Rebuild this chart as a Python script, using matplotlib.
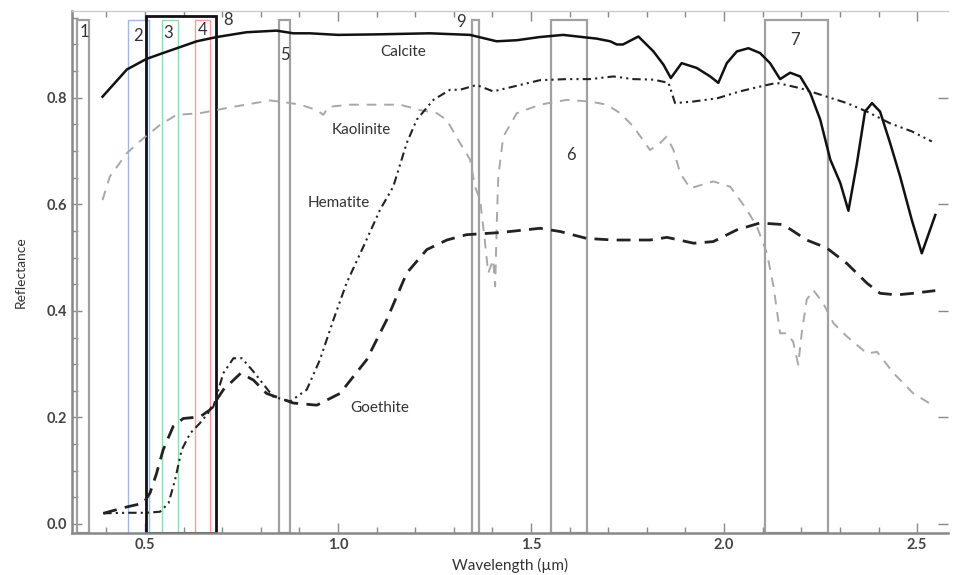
import matplotlib
matplotlib.use("Agg")
import matplotlib.pyplot as plt
from matplotlib.patches import Rectangle
from matplotlib.ticker import MultipleLocator

plt.rcParams['font.family'] = ['Lato', 'DejaVu Sans']

# ---------------- data ----------------
calcite_wl = [0.390, 0.453, 0.504, 0.547, 0.634, 0.686, 0.763, 0.841, 0.884, 0.927, 1.00, 1.10, 1.238,
              1.342, 1.411, 1.463, 1.523, 1.583, 1.670, 1.705, 1.722, 1.738, 1.778, 1.817, 1.843,
              1.862, 1.890, 1.929, 1.964, 1.985, 2.007, 2.033, 2.063, 2.093, 2.119, 2.145, 2.171,
              2.197, 2.223, 2.249, 2.275, 2.301, 2.322, 2.344, 2.365, 2.383, 2.404, 2.430, 2.456,
              2.486, 2.512, 2.547]
calcite_r = [0.802, 0.853, 0.873, 0.884, 0.906, 0.914, 0.923, 0.926, 0.921, 0.921, 0.918, 0.919, 0.921,
             0.918, 0.906, 0.908, 0.914, 0.918, 0.911, 0.906, 0.900, 0.900, 0.915, 0.887, 0.862,
             0.837, 0.865, 0.856, 0.840, 0.828, 0.865, 0.887, 0.893, 0.884, 0.865, 0.835, 0.847,
             0.840, 0.809, 0.759, 0.684, 0.640, 0.588, 0.677, 0.774, 0.790, 0.774, 0.715, 0.652,
             0.571, 0.508, 0.580]

kaolinite_wl = [0.390, 0.409, 0.453, 0.496, 0.539, 0.582, 0.642, 0.729, 0.824, 0.867, 0.902, 0.945,
                0.962, 0.975, 1.031, 1.161, 1.212, 1.256, 1.282, 1.316, 1.342, 1.355, 1.368, 1.381,
                1.389, 1.402, 1.407, 1.411, 1.415, 1.428, 1.463, 1.523, 1.592, 1.653, 1.696, 1.731,
                1.765, 1.808, 1.830, 1.851, 1.869, 1.886, 1.912, 1.972, 2.016, 2.059, 2.085, 2.111,
                2.128, 2.145, 2.162, 2.179, 2.192, 2.201, 2.214, 2.231, 2.257, 2.283, 2.318, 2.370,
                2.396, 2.439, 2.490, 2.547]
kaolinite_r = [0.608, 0.652, 0.696, 0.724, 0.749, 0.768, 0.771, 0.783, 0.795, 0.791, 0.787, 0.777,
               0.768, 0.783, 0.787, 0.787, 0.777, 0.771, 0.758, 0.715, 0.684, 0.633, 0.608, 0.527,
               0.471, 0.496, 0.446, 0.558, 0.652, 0.727, 0.771, 0.787, 0.796, 0.793, 0.787, 0.771,
               0.746, 0.702, 0.712, 0.727, 0.702, 0.659, 0.630, 0.643, 0.633, 0.590, 0.558, 0.508,
               0.446, 0.358, 0.358, 0.342, 0.299, 0.358, 0.421, 0.439, 0.414, 0.377, 0.352, 0.320,
               0.323, 0.283, 0.245, 0.220]

hematite_wl = [0.392, 0.453, 0.504, 0.539, 0.561, 0.578, 0.595, 0.617, 0.642, 0.677, 0.703, 0.729,
               0.751, 0.781, 0.832, 0.876, 0.919, 0.953, 0.988, 1.022, 1.066, 1.109, 1.143, 1.178,
               1.204, 1.247, 1.290, 1.316, 1.359, 1.402, 1.454, 1.523, 1.592, 1.653, 1.713, 1.765,
               1.817, 1.856, 1.873, 1.921, 1.982, 2.041, 2.093, 2.136, 2.197, 2.266, 2.318, 2.370,
               2.430, 2.486, 2.538]
hematite_r = [0.020, 0.021, 0.021, 0.023, 0.039, 0.083, 0.139, 0.170, 0.189, 0.220, 0.283, 0.311,
              0.311, 0.286, 0.239, 0.230, 0.252, 0.308, 0.383, 0.452, 0.521, 0.590, 0.633, 0.715,
              0.759, 0.796, 0.815, 0.815, 0.824, 0.812, 0.821, 0.833, 0.835, 0.835, 0.840, 0.835,
              0.834, 0.828, 0.790, 0.793, 0.799, 0.812, 0.821, 0.828, 0.818, 0.802, 0.790, 0.774,
              0.752, 0.737, 0.718]

goethite_wl = [0.392, 0.453, 0.496, 0.513, 0.530, 0.547, 0.573, 0.599, 0.642, 0.668, 0.703, 0.748,
               0.781, 0.815, 0.884, 0.945, 1.005, 1.074, 1.126, 1.178, 1.230, 1.282, 1.333, 1.420,
               1.523, 1.575, 1.644, 1.713, 1.808, 1.852, 1.921, 1.972, 2.033, 2.093, 2.153, 2.214,
               2.266, 2.318, 2.370, 2.404, 2.447, 2.490, 2.547]
goethite_r = [0.020, 0.032, 0.039, 0.058, 0.095, 0.139, 0.183, 0.198, 0.201, 0.214, 0.252, 0.283,
              0.270, 0.245, 0.227, 0.223, 0.245, 0.308, 0.383, 0.471, 0.515, 0.533, 0.543, 0.547,
              0.555, 0.549, 0.536, 0.533, 0.533, 0.538, 0.527, 0.530, 0.552, 0.565, 0.562, 0.533,
              0.518, 0.489, 0.452, 0.433, 0.430, 0.433, 0.438]

# band windows (label, start, end, top)
band_labels = ['1', '2', '3', '4', '8', '5', '9', '6', '7']
band_start = [0.325, 0.457, 0.545, 0.630, 0.502, 0.847, 1.346, 1.551, 2.106]
band_end = [0.356, 0.511, 0.585, 0.668, 0.684, 0.876, 1.365, 1.646, 2.268]
band_top = [0.946, 0.946, 0.946, 0.946, 0.954, 0.946, 0.946, 0.946, 0.946]
band_colors = ['#a0a0a0', '#9dbbe0', '#8fdca8', '#ff9a9a', '#111111', '#a0a0a0', '#a0a0a0', '#a0a0a0', '#a0a0a0']
band_lw = [1.6, 1.0, 1.0, 1.0, 2.0, 1.6, 1.6, 1.6, 1.6]
# label positions
band_label_x = [0.342, 0.482, 0.560, 0.650, 0.716, 0.863, 1.319, 1.604, 2.184]
band_label_y = [0.924, 0.916, 0.922, 0.928, 0.946, 0.881, 0.943, 0.693, 0.909]

mineral_names = ['Calcite', 'Kaolinite', 'Hematite', 'Goethite']
mineral_label_x = [1.168, 1.060, 1.003, 1.109]
mineral_label_y = [0.886, 0.740, 0.603, 0.218]

x_ticks = [0.5, 1.0, 1.5, 2.0, 2.5]
y_ticks = [0.0, 0.2, 0.4, 0.6, 0.8]

# ---------------- plot ----------------
fig = plt.figure(figsize=(9.55, 5.75), dpi=100)
ax = fig.add_axes([0.0754, 0.073, 0.9173, 0.908])
xmin, xmax = 0.311, 2.580
ymin, ymax = -0.017, 0.963
ax.set_xlim(xmin, xmax)
ax.set_ylim(ymin, ymax)

for i in range(len(band_labels)):
    rect = Rectangle((band_start[i], ymin), band_end[i] - band_start[i], band_top[i] - ymin,
                     fill=False, edgecolor=band_colors[i], linewidth=band_lw[i], zorder=2)
    ax.add_patch(rect)
    ax.text(band_label_x[i], band_label_y[i], band_labels[i], fontsize=12, color='#333333',
            ha='center', va='center', zorder=5)

ax.plot(kaolinite_wl, kaolinite_r, color='#a8a8a8', lw=1.4, dashes=(5, 4), zorder=3)
ax.plot(goethite_wl, goethite_r, color='#222222', lw=2.0, dashes=(5, 3), zorder=3)
ax.plot(hematite_wl, hematite_r, color='#222222', lw=1.5, dashes=(4, 2, 1, 2, 1, 2), zorder=3)
ax.plot(calcite_wl, calcite_r, color='#111111', lw=1.8, zorder=4)

for name, x, y in zip(mineral_names, mineral_label_x, mineral_label_y):
    ax.text(x, y, name, fontsize=11, color='#333333', ha='center', va='center', zorder=5)

ax.set_xticks(x_ticks)
ax.set_xticklabels([f'{v:.1f}' for v in x_ticks])
ax.set_yticks(y_ticks)
ax.set_yticklabels([f'{v:.1f}' for v in y_ticks])
ax.xaxis.set_minor_locator(MultipleLocator(0.1))
ax.yaxis.set_minor_locator(MultipleLocator(0.05))
ax.tick_params(which='both', direction='in', top=True, right=True, colors='#888888',
               labelcolor='#444444', labelsize=10.5)
ax.tick_params(which='major', length=7, width=1)
ax.tick_params(which='minor', length=4, width=1)
ax.tick_params(axis='y', which='minor', right=False)
for lab in ax.get_xticklabels() + ax.get_yticklabels():
    lab.set_fontweight('bold')

for s in ['left', 'bottom']:
    ax.spines[s].set_color('#888888')
    ax.spines[s].set_linewidth(1.8)
ax.spines['top'].set_color('#cccccc')
ax.spines['top'].set_linewidth(1.0)
ax.spines['right'].set_visible(False)

ax.set_xlabel('Wavelength (µm)', fontsize=11, color='#333333', labelpad=4)
ax.set_ylabel('Reflectance', fontsize=10, color='#333333', labelpad=14)

fig.savefig('out.png', dpi=100)
